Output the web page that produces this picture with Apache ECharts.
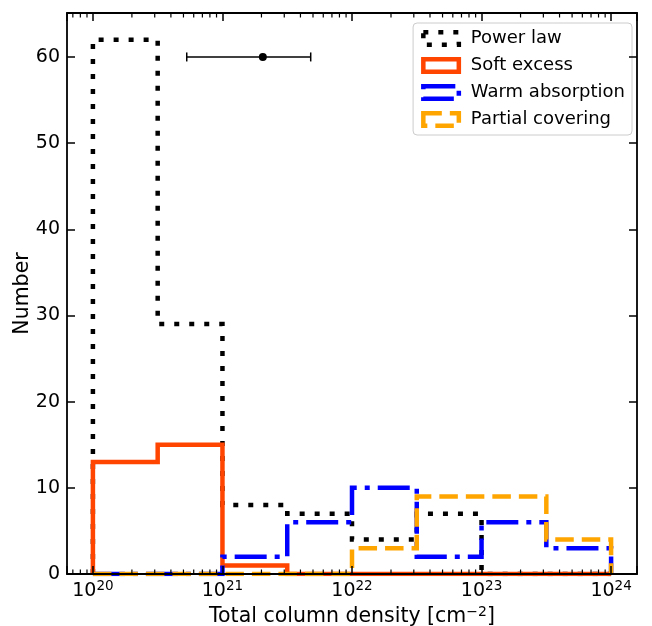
<!DOCTYPE html>
<html><head><meta charset="utf-8">
<script src="https://cdn.jsdelivr.net/npm/echarts@6/dist/echarts.min.js"></script>
<style>html,body{margin:0;padding:0;background:#fff}#c{width:652px;height:626px}</style>
</head><body><div id="c"></div>
<script>
// ---- data ----
const binEdgeExponents = [20, 20.5, 21, 21.5, 22, 22.5, 23, 23.5, 24];
const powerLaw        = [62, 29, 8, 7, 4, 7, 0, 0];
const softExcess      = [13, 15, 1, 0, 0, 0, 0, 0];
const warmAbsorption  = [0, 0, 2, 6, 10, 2, 6, 3];
const partialCovering = [0, 0, 0, 0, 3, 9, 9, 4];
const errPointX = [2.05e21];
const errPointY = [60];
const errLow    = [5.3e20];
const errHigh   = [4.8e21];
const xTickExponents = [20, 21, 22, 23, 24];
const yTickValues = [0, 10, 20, 30, 40, 50, 60];
const seriesNames = ['Power law', 'Soft excess', 'Warm absorption', 'Partial covering'];

// ---- build ----
const edges = binEdgeExponents.map(p => Math.pow(10, p));
function stepData(vals) {
  const d = [[edges[0], 0]];
  vals.forEach((v, i) => { d.push([edges[i], v]); d.push([edges[i + 1], v]); });
  d.push([edges[edges.length - 1], 0]);
  return d;
}
const XMIN = Math.pow(10, 19.8), XMAX = Math.pow(10, 24.2), YMAX = 65.1;
const minorTicks = [];
for (let n = 19; n <= 24; n++) for (let k = 2; k <= 9; k++) {
  const v = k * Math.pow(10, n);
  if (v > XMIN && v < XMAX) minorTicks.push([v]);
}
const FONT = 'DejaVu Sans';
const styles = [
  { color: '#000000', type: [5, 10] },
  { color: '#FF4500', type: 'solid' },
  { color: '#0000FF', type: [32, 8, 5, 8] },
  { color: '#FFA500', type: [18.5, 8] }
];
const datasets = [powerLaw, softExcess, warmAbsorption, partialCovering];

const chart = echarts.init(document.getElementById('c'), null, { renderer: 'canvas' });
const xLabelFmt = v => {
  const e = Math.log10(v), r = Math.round(e);
  if (Math.abs(e - r) > 1e-6 || xTickExponents.indexOf(r) < 0) return '';
  return '{b|10}{s|' + r + '}';
};
const frameLine = { show: true, onZero: false, lineStyle: { color: '#000', width: 1.8 } };
const majorTick = { show: true, inside: true, length: 8, lineStyle: { color: '#000', width: 1.5 } };
const option = {
  animation: false,
  backgroundColor: '#fff',
  textStyle: { fontFamily: FONT },
  grid: { left: 67, right: 15, top: 13, bottom: 52, containLabel: false, outerBoundsMode: 'none' },
  legend: {
    orient: 'vertical', right: 20, top: 23,
    backgroundColor: 'rgba(255,255,255,0.8)', borderColor: '#cccccc', borderWidth: 1, borderRadius: 4,
    padding: [5, 7, 5, 8], itemGap: 6, itemWidth: 35.5, itemHeight: 12.5,
    textStyle: { fontFamily: FONT, fontSize: 18, color: '#000', lineHeight: 21, padding: [0, 0, 0, 7] },
    data: seriesNames.map((n, i) => ({
      name: n, icon: 'rect',
      itemStyle: { color: 'rgba(0,0,0,0)', borderColor: styles[i].color, borderWidth: 4.5, borderType: styles[i].type }
    }))
  },
  xAxis: [
    { type: 'log', logBase: 10, min: XMIN, max: XMAX, position: 'bottom', z: 10,
      name: 'Total column density [cm{sup|−2}]', nameLocation: 'middle', nameGap: 23,
      nameTextStyle: { fontFamily: FONT, fontSize: 20.5, color: '#000', rich: { sup: { fontSize: 14, verticalAlign: 'top', padding: [0, 0, 9, 0], fontFamily: FONT, color: '#000' } } },
      axisLine: frameLine,
      axisTick: majorTick,
      axisLabel: { margin: 5, formatter: xLabelFmt, color: '#000',
        rich: { b: { fontFamily: FONT, fontSize: 19, color: '#000' }, s: { fontFamily: FONT, fontSize: 13.5, color: '#000', verticalAlign: 'top', padding: [0, 0, 10, 0] } } },
      splitLine: { show: false } },
    { type: 'log', logBase: 10, min: XMIN, max: XMAX, position: 'top', z: 10,
      axisLine: frameLine,
      axisTick: majorTick,
      axisLabel: { show: false }, splitLine: { show: false } }
  ],
  yAxis: [
    { type: 'value', min: 0, max: YMAX, interval: 10, position: 'left', z: 10,
      name: 'Number', nameLocation: 'middle', nameGap: 33.5, nameMoveOverlap: false,
      nameTextStyle: { fontFamily: FONT, fontSize: 20.5, color: '#000' },
      axisLine: frameLine,
      axisTick: majorTick,
      axisLabel: { margin: 7, fontFamily: FONT, fontSize: 19, color: '#000',
        formatter: v => (yTickValues.indexOf(Math.round(v)) >= 0 && Math.abs(v - Math.round(v)) < 1e-6) ? String(Math.round(v)) : '' },
      splitLine: { show: false } },
    { type: 'value', min: 0, max: YMAX, interval: 10, position: 'right', z: 10,
      axisLine: frameLine,
      axisTick: majorTick,
      axisLabel: { show: false }, splitLine: { show: false } }
  ],
  series: [
    ...datasets.map((vals, i) => ({
      name: seriesNames[i], type: 'line', data: stepData(vals), symbol: 'none', clip: true,
      lineStyle: { color: styles[i].color, width: 4.5, type: styles[i].type, cap: 'butt', join: 'miter' },
      itemStyle: { color: styles[i].color }, z: 2 + i
    })),
    { type: 'custom', name: 'minor', silent: true, z: 11,
      data: minorTicks,
      renderItem: (params, api) => {
        const b = api.coord([api.value(0), 0]);
        const t = api.coord([api.value(0), YMAX]);
        return { type: 'group', children: [
          { type: 'line', shape: { x1: b[0], y1: b[1], x2: b[0], y2: b[1] - 4.5 }, style: { stroke: '#000', lineWidth: 1.2 } },
          { type: 'line', shape: { x1: t[0], y1: t[1], x2: t[0], y2: t[1] + 4.5 }, style: { stroke: '#000', lineWidth: 1.2 } }
        ] };
      }, encode: { x: 0 } },
    { type: 'custom', name: 'errorbar', silent: true, z: 12,
      data: errPointX.map((x, i) => [x, errPointY[i], errLow[i], errHigh[i]]),
      encode: { x: 0, y: 1 },
      renderItem: (params, api) => {
        const c = api.coord([api.value(0), api.value(1)]);
        const l = api.coord([api.value(2), api.value(1)]);
        const h = api.coord([api.value(3), api.value(1)]);
        const cap = 4.5;
        return { type: 'group', children: [
          { type: 'line', shape: { x1: l[0], y1: l[1], x2: h[0], y2: h[1] }, style: { stroke: '#000', lineWidth: 1.5 } },
          { type: 'line', shape: { x1: l[0], y1: l[1] - cap, x2: l[0], y2: l[1] + cap }, style: { stroke: '#000', lineWidth: 1.5 } },
          { type: 'line', shape: { x1: h[0], y1: h[1] - cap, x2: h[0], y2: h[1] + cap }, style: { stroke: '#000', lineWidth: 1.5 } },
          { type: 'circle', shape: { cx: c[0], cy: c[1], r: 4 }, style: { fill: '#000' } }
        ] };
      } }
  ]
};
chart.setOption(option);
</script></body></html>
